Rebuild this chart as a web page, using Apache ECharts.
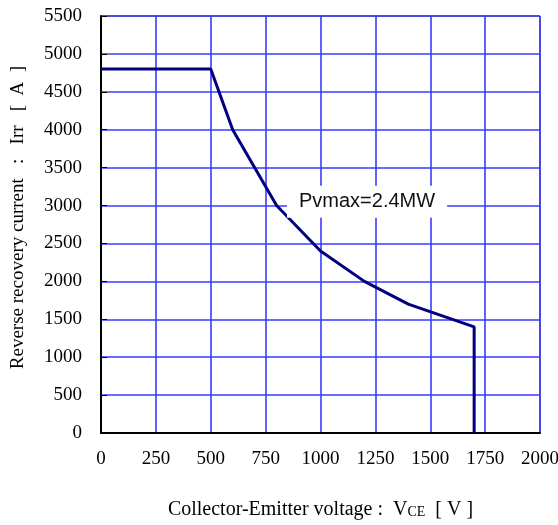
<!DOCTYPE html>
<html>
<head>
<meta charset="utf-8">
<script src="https://cdn.jsdelivr.net/npm/echarts@6/dist/echarts.min.js"></script>
<style>
  html, body { margin: 0; padding: 0; background: #fff; }
  #chart { width: 558px; height: 525px; }
</style>
</head>
<body>
<div id="chart"></div>
<script>
// SOA curve: collector-emitter voltage (V) vs reverse recovery current (A)
var vce = [0, 500, 600, 800, 1000, 1200, 1400, 1700, 1700];
var irr = [4800, 4800, 4000, 3000, 2400, 2000, 1700, 1400, 0];
var labelText = 'Pvmax=2.4MW';
var labelAt = [1212, 3050];

var serif = 'Liberation Serif';
var chart = echarts.init(document.getElementById('chart'));

function plain(v) { return String(v); }

chart.setOption({
  animation: false,
  grid: {
    left: 101, right: 18, top: 16, bottom: 92,
    outerBoundsMode: 'none',
    show: true, borderColor: '#000', borderWidth: 1
  },
  xAxis: {
    type: 'value', min: 0, max: 2000, interval: 250,
    name: '{a|Collector-Emitter voltage :  V}{b|CE}{a|  [ V ]}',
    nameLocation: 'middle', nameGap: 67,
    nameTextStyle: {
      rich: {
        a: { fontFamily: serif, fontSize: 20, color: '#000' },
        b: { fontFamily: serif, fontSize: 14, color: '#000', padding: [4, 0, 0, 0] }
      }
    },
    axisLine: { lineStyle: { color: '#000', width: 2 } },
    axisTick: { show: false },
    axisLabel: { fontFamily: serif, fontSize: 19, color: '#000', margin: 17, formatter: plain },
    splitLine: { show: true, lineStyle: { color: '#3a3aff', width: 1.6 } }
  },
  yAxis: {
    type: 'value', min: 0, max: 5500, interval: 500,
    name: 'Reverse recovery current   :   Irr   [  A  ]',
    nameLocation: 'middle', nameGap: 73,
    nameTextStyle: { fontFamily: serif, fontSize: 19, color: '#000', padding: [0, 0, 0, 14] },
    axisLine: { show: true, lineStyle: { color: '#000', width: 2 } },
    axisTick: { show: true, inside: true, length: 6, lineStyle: { color: '#000' } },
    axisLabel: { fontFamily: serif, fontSize: 19, color: '#000', margin: 19, formatter: plain },
    splitLine: { show: true, lineStyle: { color: '#3a3aff', width: 1.6 } }
  },
  series: [{
    type: 'line',
    data: vce.map(function (v, i) { return [v, irr[i]]; }),
    symbol: 'none',
    lineStyle: { color: '#000080', width: 3 },
    markPoint: {
      symbol: 'rect', symbolSize: 0,
      data: [{ coord: labelAt }],
      label: {
        show: true,
        formatter: labelText,
        position: 'inside',
        fontFamily: 'Liberation Sans', fontSize: 20, color: '#111',
        backgroundColor: '#fff',
        padding: [7, 12, 5, 12]
      }
    }
  }]
});
</script>
</body>
</html>
